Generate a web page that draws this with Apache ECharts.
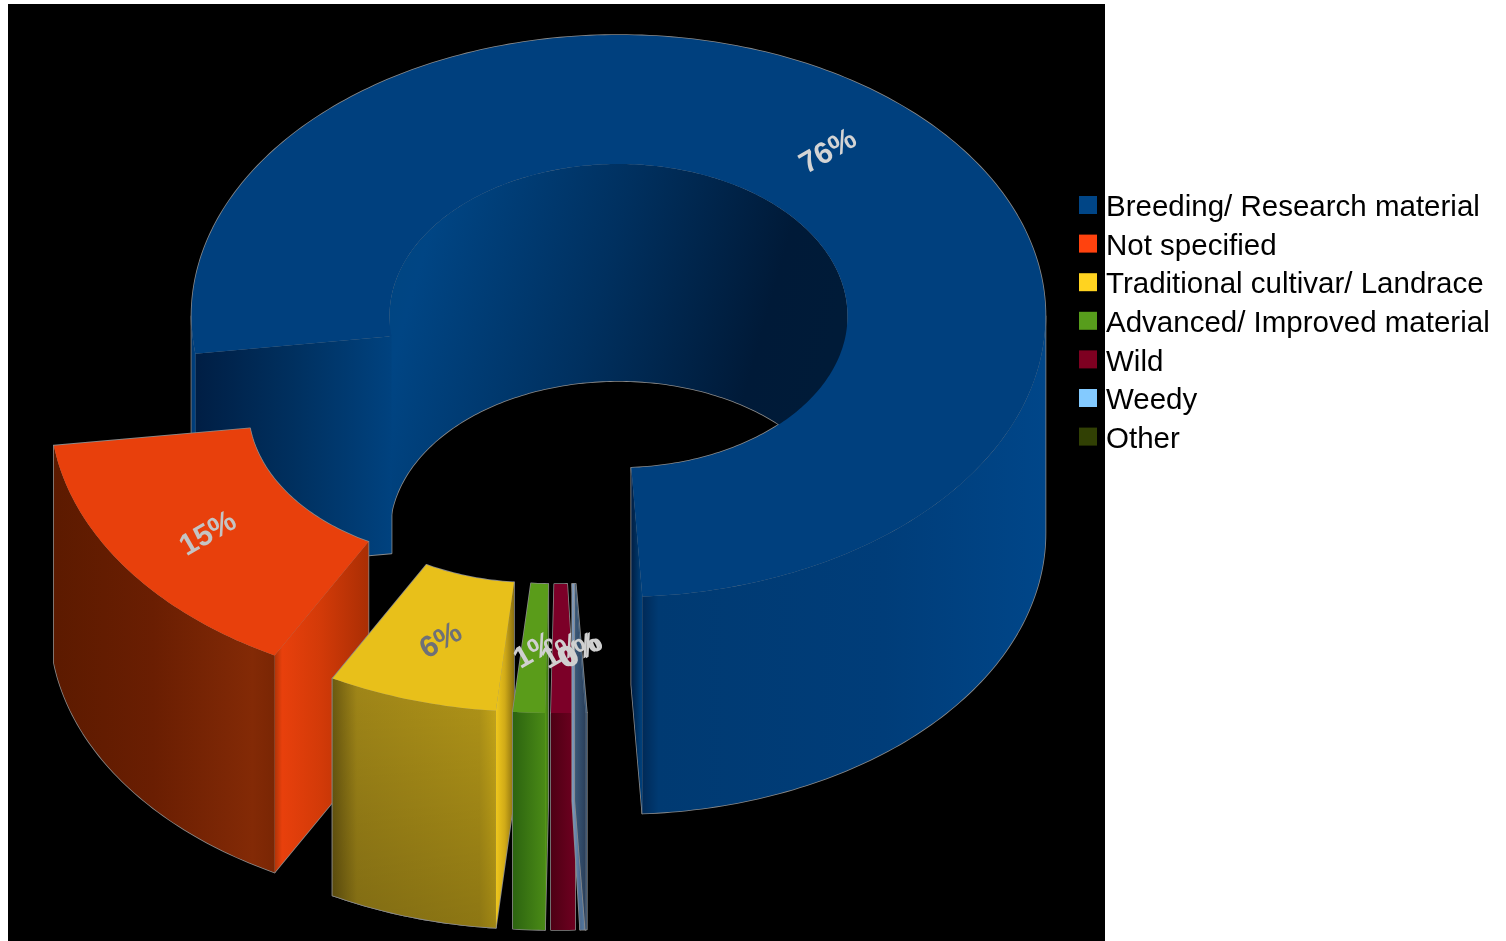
<!DOCTYPE html>
<html>
<head>
<meta charset="utf-8">
<style>html,body{margin:0;padding:0;background:#fff}#c{width:1506px;height:941px}</style>
<script src="https://cdn.jsdelivr.net/npm/echarts@6/dist/echarts.min.js"></script>
</head>
<body>
<div id="c"></div>
<script>
// ---- data ----
var categories = ['Breeding/ Research material','Not specified','Traditional cultivar/ Landrace','Advanced/ Improved material','Wild','Weedy','Other'];
var shares = [76.25, 15.0, 6.4, 1.2, 0.9, 0.2, 0.05];
var legendColors = ['#004586','#ff420e','#ffd320','#579d1c','#7e0021','#83caff','#314004'];

// ---- projection and look ----
var startAngle = 273.2, outerA = 427, outerB = 281, innerA = 229, innerB = 152, depth = 217;
var centres = [[618.5,316],[477,408],[535,431],[552,432],[558,432],[563,432],[563,432]];
var topColors = ['#00407e','#e8400c','#e8c01a','#5a9c1a','#7c0028','#7f9cc0','#3a5878'];
var outerStops = [
  [[0,'#002a58'],[0.04,'#003a72'],[0.6,'#003d79'],[1,'#004689']],
  [[0,'#5c1a00'],[0.45,'#6a1e02'],[0.9,'#832a06'],[1,'#7a2604']],
  [[0,'#6c5a10'],[0.15,'#a08618'],[0.9,'#b09418'],[1,'#c8a818']],
  [[0,'#2c6410'],[1,'#4a8a16']],
  [[0,'#4e0014'],[1,'#6e0020']],
  [[0,'#4a6a90'],[1,'#5a7ca0']],
  [[0,'#2a3f5a'],[1,'#3a5878']]
];
var cutStops = [
  [[0,'#001e44'],[0.5,'#00305f'],[1,'#00427f']],
  [[0,'#b03408'],[0.08,'#e8400c'],[0.5,'#d23a08'],[1,'#aa2e04']],
  [[0,'#f0c81c'],[0.5,'#d0aa18'],[1,'#8a7010']],
  [[0,'#5a9c1a'],[1,'#3a7012']],
  [[0,'#7c0028'],[1,'#5a0018']],
  [[0,'#7f9cc0'],[1,'#4a6a90']],
  [[0,'#3a5878'],[1,'#2a3f5a']]
];
var innerWallStops = [[0,'#00457f'],[0.12,'#004584'],[0.5,'#00305f'],[0.85,'#001a38'],[1,'#001b38']];
var labelColors = ['#d4d4d4','#c4c4c4','#6e7078','#d0d0d0','#d0d0d0','#d0d0d0','#d0d0d0'];
var bottomShade = [0,0,0.2,0,0,0,0];
var edgeColor = '#8a8a8a';

var total = shares.reduce(function(a,b){return a+b;},0);

function grad(stops,y2){
  return new echarts.graphic.LinearGradient(0,0,1,y2||0,stops.map(function(s){return {offset:s[0],color:s[1]};}));
}
function pt(c,a,b,t,dz){
  var r=t*Math.PI/180;
  return [c[0]+a*Math.cos(r), c[1]-b*Math.sin(r)+(dz||0)];
}
function arc(c,a,b,t0,t1,dz){
  var n=Math.max(2,Math.ceil(Math.abs(t1-t0)/1)), out=[];
  for(var i=0;i<=n;i++) out.push(pt(c,a,b,t0+(t1-t0)*i/n,dz));
  return out;
}
function wall(c,a,b,t0,t1){
  return arc(c,a,b,t0,t1,0).concat(arc(c,a,b,t1,t0,depth));
}
// parts of [t0,t1] whose sine has the wanted sign
function ranges(t0,t1,back){
  var res=[];
  for(var k=-1;k<3;k++){
    var lo=k*360+(back?0:180), hi=lo+180;
    var a=Math.max(t0,lo), b=Math.min(t1,hi);
    if(b>a) res.push([a,b]);
  }
  return res;
}
function sinD(t){return Math.sin(t*Math.PI/180);}

function renderSlice(params,api){
  var i=params.seriesIndex, val=api.value(0), before=0;
  for(var k=0;k<i;k++) before+=shares[k];
  var t0=startAngle+before/total*360, t1=t0+val/total*360;
  var c=centres[i], faces=[];
  function add(points,fill){faces.push({points:points,fill:fill});}

  ranges(t0,t1,true).forEach(function(r){ add(wall(c,innerA,innerB,r[0],r[1]),grad(innerWallStops,0.35)); });
  function cut(t){
    var p=pt(c,innerA,innerB,t),q=pt(c,outerA,outerB,t);
    return [p,q,[q[0],q[1]+depth],[p[0],p[1]+depth]];
  }
  if(sinD(t0-90)<0) add(cut(t0),grad(cutStops[i]));
  if(sinD(t1+90)<0) add(cut(t1),grad(cutStops[i]));
  ranges(t0,t1,false).forEach(function(r){
    var w=wall(c,outerA,outerB,r[0],r[1]);
    add(w,grad(outerStops[i]));
    if(bottomShade[i]>0){
      add(w,new echarts.graphic.LinearGradient(0,0,0,1,[{offset:0,color:'rgba(0,0,0,0)'},{offset:1,color:'rgba(0,0,0,'+bottomShade[i]+')'}]));
    }
  });
  add(arc(c,outerA,outerB,t0,t1).concat(arc(c,innerA,innerB,t1,t0)),topColors[i]);

  var children=[];
  faces.forEach(function(f){
    children.push({type:'polygon',silent:true,shape:{points:f.points},style:{fill:'none',stroke:edgeColor,lineWidth:1.6,lineJoin:'round'}});
  });
  faces.forEach(function(f){
    children.push({type:'polygon',silent:true,shape:{points:f.points},style:{fill:f.fill,stroke:null}});
  });
  var m=pt(c,(outerA+innerA)/2,(outerB+innerB)/2,(t0+t1)/2);
  children.push({type:'text',silent:true,x:m[0]+1,y:m[1]+3,rotation:30*Math.PI/180,
    style:{text:Math.round(val)+'%',fill:labelColors[i],font:'bold 30px "Liberation Sans"',align:'center',verticalAlign:'middle'}});
  return {type:'group',children:children};
}

var chart=echarts.init(document.getElementById('c'),null,{renderer:'canvas',width:1506,height:941});
chart.setOption({
  animation:false,
  backgroundColor:'#ffffff',
  graphic:[{type:'rect',silent:true,z:-10,shape:{x:8,y:4,width:1097,height:937},style:{fill:'#000000'}}],
  legend:{
    orient:'vertical',left:1079,top:187,
    itemWidth:18,itemHeight:18,itemGap:2.6,padding:0,
    selectedMode:false,icon:'rect',
    data:categories,
    formatter:function(name){return '{t|'+name+'}';},
    textStyle:{fontFamily:'"Liberation Sans"',fontSize:29.5,color:'#000',
      rich:{t:{fontFamily:'"Liberation Sans"',fontSize:29.5,color:'#000',lineHeight:30,padding:[6,0,0,4]}}}
  },
  series:categories.map(function(name,i){
    return {
      type:'custom',name:name,coordinateSystem:'none',
      itemStyle:{color:legendColors[i]},
      renderItem:renderSlice,
      data:[shares[i]]
    };
  })
});
</script>
</body>
</html>
